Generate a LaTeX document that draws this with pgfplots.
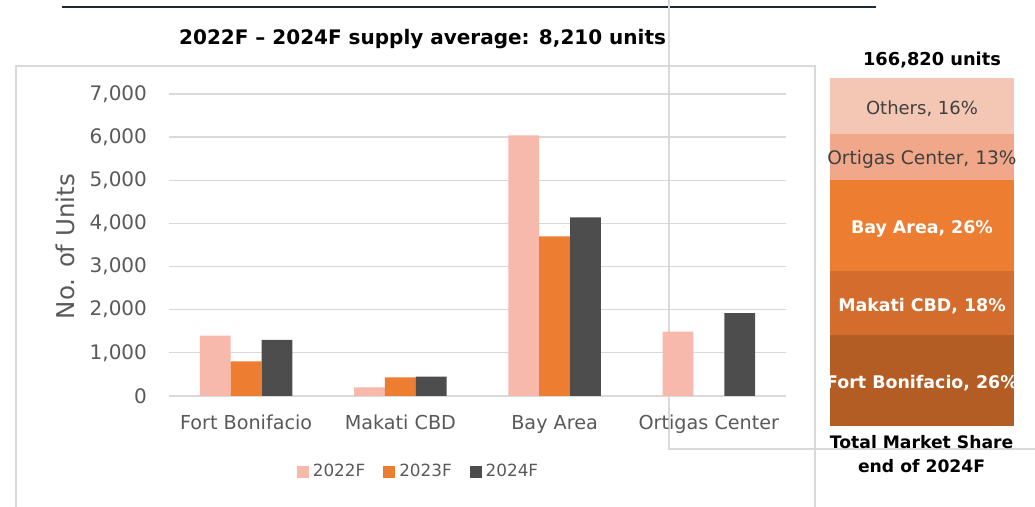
\documentclass[border=0pt]{standalone}
\usepackage{pgfplots}
\pgfplotsset{compat=1.18}
\usepackage{fontspec}
\setmainfont{DejaVu Sans}
\definecolor{c22}{HTML}{F8B9AD}
\definecolor{c23}{HTML}{ED7D31}
\definecolor{c24}{HTML}{4D4D4D}
\definecolor{gridgray}{HTML}{D9D9D9}
\definecolor{txtgray}{HTML}{595959}
\definecolor{sOthers}{HTML}{F4C7B5}
\definecolor{sOrtigas}{HTML}{F0A78A}
\definecolor{sBay}{HTML}{ED7D31}
\definecolor{sMakati}{HTML}{D36C2C}
\definecolor{sFB}{HTML}{B35D24}
\definecolor{topline}{HTML}{1E2A38}
\begin{document}
\begin{tikzpicture}
\useasboundingbox (0,0) rectangle (517.5pt,253.5pt);
\clip (0,0) rectangle (517.5pt,253.5pt);
\draw[topline, line width=1pt] (31pt,250pt) -- (438pt,250pt);
\draw[gridgray, line width=1pt] (8pt,-5pt) -- (8pt,220.5pt) -- (407.5pt,220.5pt) -- (407.5pt,-5pt);
\draw[gridgray, line width=1pt] (334.5pt,260pt) -- (334.5pt,29pt) -- (520pt,29pt);

\begin{axis}[
  at={(84.5pt,55.5pt)}, anchor=south west,
  scale only axis, width=308.5pt, height=151pt,
  ymin=0, ymax=7000, xmin=-0.5, xmax=3.5,
  ytick={0,1000,...,7000},
  xtick={0,1,2,3},
  xticklabels={Fort Bonifacio, Makati CBD, Bay Area, Ortigas Center},
  axis line style={draw=none},
  tick style={draw=none},
  major tick length=0pt,
  ymajorgrids, grid style={gridgray, line width=0.65pt},
  /pgf/number format/.cd, 1000 sep={,}, assume math mode=true, /pgfplots/.cd,
  yticklabel style={font=\fontsize{10}{12}\selectfont, text=txtgray, anchor=east, xshift=-7.5pt},
  xticklabel style={font=\fontsize{9.6}{11}\selectfont, text=txtgray, anchor=base, yshift=-17pt},
  ylabel={No. of Units},
  ylabel style={at={(axis description cs:-0.1686,0.495)}, anchor=center, font=\fontsize{12.25}{14}\selectfont, text=txtgray},
  title={\textbf{2022F – 2024F supply average: 8,210 units}},
  title style={at={(axis description cs:0.411,1.1235)}, anchor=base, font=\fontsize{10}{12}\selectfont, text=black},
  ybar, bar width=0.2,
  legend columns=3,
  legend style={at={(axis description cs:0.406,-0.2517)}, anchor=center, draw=none, fill=none,
    font=\fontsize{8.4}{10}\selectfont, text=txtgray,
    nodes={inner xsep=2pt, inner ysep=0pt},
    /tikz/every even column/.style={column sep=7pt}},
  legend image code/.code={\fill[#1] (0pt,-3pt) rectangle (6pt,3pt);},
]
\addplot[fill=c22, draw=none, bar shift=-0.2] coordinates {(0,1400) (1,200) (2,6040) (3,1490)};
\addplot[fill=c23, draw=none, bar shift=0] coordinates {(0,800) (1,430) (2,3700)};
\addplot[fill=c24, draw=none, bar shift=0.2] coordinates {(0,1300) (1,450) (2,4140) (3,1920)};
\legend{2022F,2023F,2024F}
\end{axis}

\begin{axis}[
  at={(415pt,40.5pt)}, anchor=south west,
  scale only axis, width=92pt, height=174pt,
  xmin=-0.5, xmax=0.5, ymin=0, ymax=99,
  ybar stacked, bar width=1,
  hide axis,
]
\addplot[fill=sFB, draw=none] coordinates {(0,26)};
\addplot[fill=sMakati, draw=none] coordinates {(0,18)};
\addplot[fill=sBay, draw=none] coordinates {(0,26)};
\addplot[fill=sOrtigas, draw=none] coordinates {(0,13)};
\addplot[fill=sOthers, draw=none] coordinates {(0,16)};
\coordinate (lFB) at (axis cs:0,13);
\coordinate (lMK) at (axis cs:0,35);
\coordinate (lBA) at (axis cs:0,57);
\coordinate (lOC) at (axis cs:0,76.5);
\coordinate (lOT) at (axis cs:0,91);
\end{axis}

\begin{scope}
\clip (414pt,40pt) rectangle (508.5pt,215pt);
\node[text=white, font=\fontsize{8.7}{10}\selectfont\bfseries, yshift=-1.5pt] at (lFB) {Fort Bonifacio, 26\%};
\node[text=white, font=\fontsize{8.7}{10}\selectfont\bfseries, yshift=-1.5pt] at (lMK) {Makati CBD, 18\%};
\node[text=white, font=\fontsize{8.7}{10}\selectfont\bfseries, yshift=-1.5pt] at (lBA) {Bay Area, 26\%};
\node[text=black!75, font=\fontsize{9.3}{10}\selectfont, yshift=-1pt] at (lOC) {Ortigas Center, 13\%};
\node[text=black!75, font=\fontsize{9}{10}\selectfont, yshift=-1.5pt] at (lOT) {Others, 16\%};
\end{scope}

\node[anchor=base, font=\fontsize{8.9}{10}\selectfont\bfseries] at (466pt,220.6pt) {166,820 units};
\node[anchor=base, font=\fontsize{8.6}{10}\selectfont\bfseries] at (460.8pt,29.3pt) {Total Market Share};
\node[anchor=base, font=\fontsize{8.6}{10}\selectfont\bfseries] at (460.8pt,17.3pt) {end of 2024F};
\end{tikzpicture}
\end{document}
